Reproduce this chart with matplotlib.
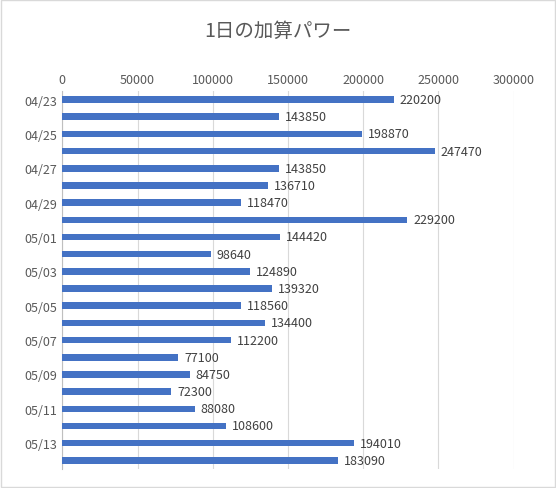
import matplotlib.pyplot as plt

plt.rcParams['font.family'] = ['Noto Sans CJK JP', 'DejaVu Sans']

dates = ['04/23', '04/24', '04/25', '04/26', '04/27', '04/28', '04/29', '04/30',
         '05/01', '05/02', '05/03', '05/04', '05/05', '05/06', '05/07', '05/08',
         '05/09', '05/10', '05/11', '05/12', '05/13', '05/14']
power = [220200, 143850, 198870, 247470, 143850, 136710, 118470, 229200,
         144420, 98640, 124890, 139320, 118560, 134400, 112200, 77100,
         84750, 72300, 88080, 108600, 194010, 183090]

fig = plt.figure(figsize=(5.56, 4.89), dpi=100)
ax = fig.add_axes([0.112, 0.039, 0.812, 0.773])

pos = list(range(len(dates)))
ax.barh(pos, power, height=0.38, color='#4472C4', zorder=3)
for p, v in zip(pos, power):
    ax.text(v + 4000, p, str(v), va='center', ha='left', fontsize=9, color='#404040')

ax.set_ylim(len(dates) - 0.5, -0.5)
ax.set_xlim(0, 300000)
ax.set_xticks(range(0, 300001, 50000))
ax.xaxis.tick_top()
ax.set_yticks(pos[::2])
ax.set_yticklabels(dates[::2])
ax.tick_params(length=0, labelsize=9, colors='#595959')
ax.grid(axis='x', color='#d9d9d9', linewidth=0.8, zorder=0)
for s in ax.spines.values():
    s.set_visible(False)
ax.spines['left'].set_visible(True)
ax.spines['left'].set_color('#bfbfbf')

fig.text(0.5, 0.935, '1日の加算パワー', ha='center', va='center', fontsize=14, color='#595959')
fig.patches.append(plt.Rectangle((0.002, 0.002), 0.996, 0.996, transform=fig.transFigure,
                                 fill=False, edgecolor='#d9d9d9', linewidth=1))

fig.savefig('out.png', dpi=100)
